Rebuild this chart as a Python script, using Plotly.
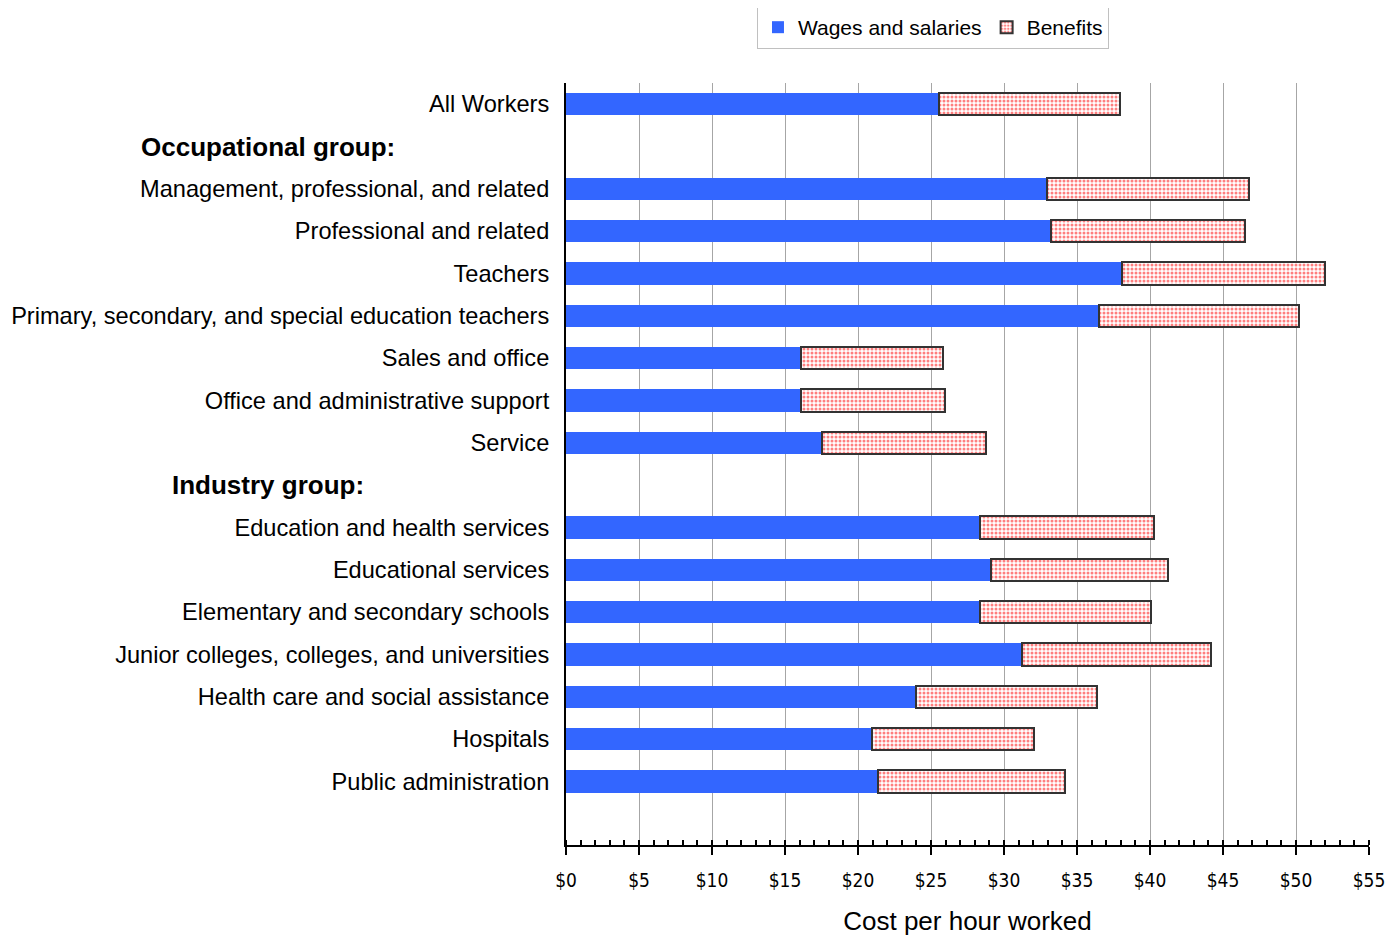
import plotly.graph_objects as go

categories = [
    "All Workers",
    "Occupational group:",
    "Management, professional, and related",
    "Professional and related",
    "Teachers",
    "Primary, secondary, and special education teachers",
    "Sales and office",
    "Office and administrative support",
    "Service",
    "Industry group:",
    "Education and health services",
    "Educational services",
    "Elementary and secondary schools",
    "Junior colleges, colleges, and universities",
    "Health care and social assistance",
    "Hospitals",
    "Public administration",
]
headers = ["Occupational group:", "Industry group:"]

wages = [25.55, None, 32.95, 33.2, 38.08, 36.5, 16.1, 16.1, 17.5, None,
         28.36, 29.1, 28.36, 31.2, 23.97, 20.96, 21.4]
benefits = [12.4, None, 13.83, 13.3, 13.92, 13.7, 9.7, 9.86, 11.3, None,
            11.94, 12.1, 11.74, 13.0, 12.43, 11.09, 12.8]

tick_text = ["" if c in headers else c for c in categories]
xticks = list(range(0, 56, 5))
xtick_labels = ["$%d" % v for v in xticks]

fig = go.Figure()
fig.add_trace(go.Bar(
    y=categories, x=wages, orientation="h", name="Wages and salaries",
    marker=dict(color="#3366FF", line=dict(width=0)),
))
fig.add_trace(go.Bar(
    y=categories, x=benefits, orientation="h", name="Benefits",
    marker=dict(color="white", line=dict(color="#333333", width=2),
                pattern=dict(shape=".", fgcolor="#FF0000", bgcolor="white",
                             size=4, solidity=0.45)),
))

for h in headers:
    fig.add_annotation(x=-0.371, xref="paper", y=h, yref="y", text="<b>%s</b>" % h,
                       showarrow=False, xanchor="center",
                       font=dict(family="Liberation Sans, Arial", size=26, color="black"))

fig.update_layout(
    width=1389, height=928,
    margin=dict(l=558, r=28, t=75, b=91, autoexpand=False),
    plot_bgcolor="white", paper_bgcolor="white",
    barmode="stack", bargap=0.48,
    font=dict(family="Liberation Sans, Arial", color="black"),
    legend=dict(orientation="h", x=0.457, xanchor="center", y=1.101, yanchor="top",
                traceorder="normal",
                bordercolor="#c0c0c0", borderwidth=1, font=dict(size=21),
                itemwidth=30, tracegroupgap=0),
    xaxis=dict(range=[0, 55], tickvals=xticks, ticktext=xtick_labels,
               automargin=False,
               showgrid=True, gridcolor="#a6a6a6", gridwidth=1,
               showline=True, linecolor="black", linewidth=2,
               ticks="outside", ticklen=8, tickwidth=1.5, tickcolor="black",
               minor=dict(dtick=1, ticks="inside", ticklen=5, tickcolor="black", showgrid=False),
               tickfont=dict(family="Liberation Sans Narrow, DejaVu Sans Condensed, Liberation Sans", size=19),
               ticklabelstandoff=9,
               title=dict(text="Cost per hour worked", font=dict(size=26), standoff=24),
               zeroline=False, fixedrange=True),
    yaxis=dict(categoryorder="array", categoryarray=categories,
               tickvals=categories, ticktext=tick_text,
               automargin=False,
               range=[len(categories) + 0.5, -0.5],
               showline=True, linecolor="black", linewidth=2,
               ticks="", ticklabelstandoff=10,
               tickfont=dict(size=23.6), showgrid=False, zeroline=False),
)

fig.write_html("out.html")
